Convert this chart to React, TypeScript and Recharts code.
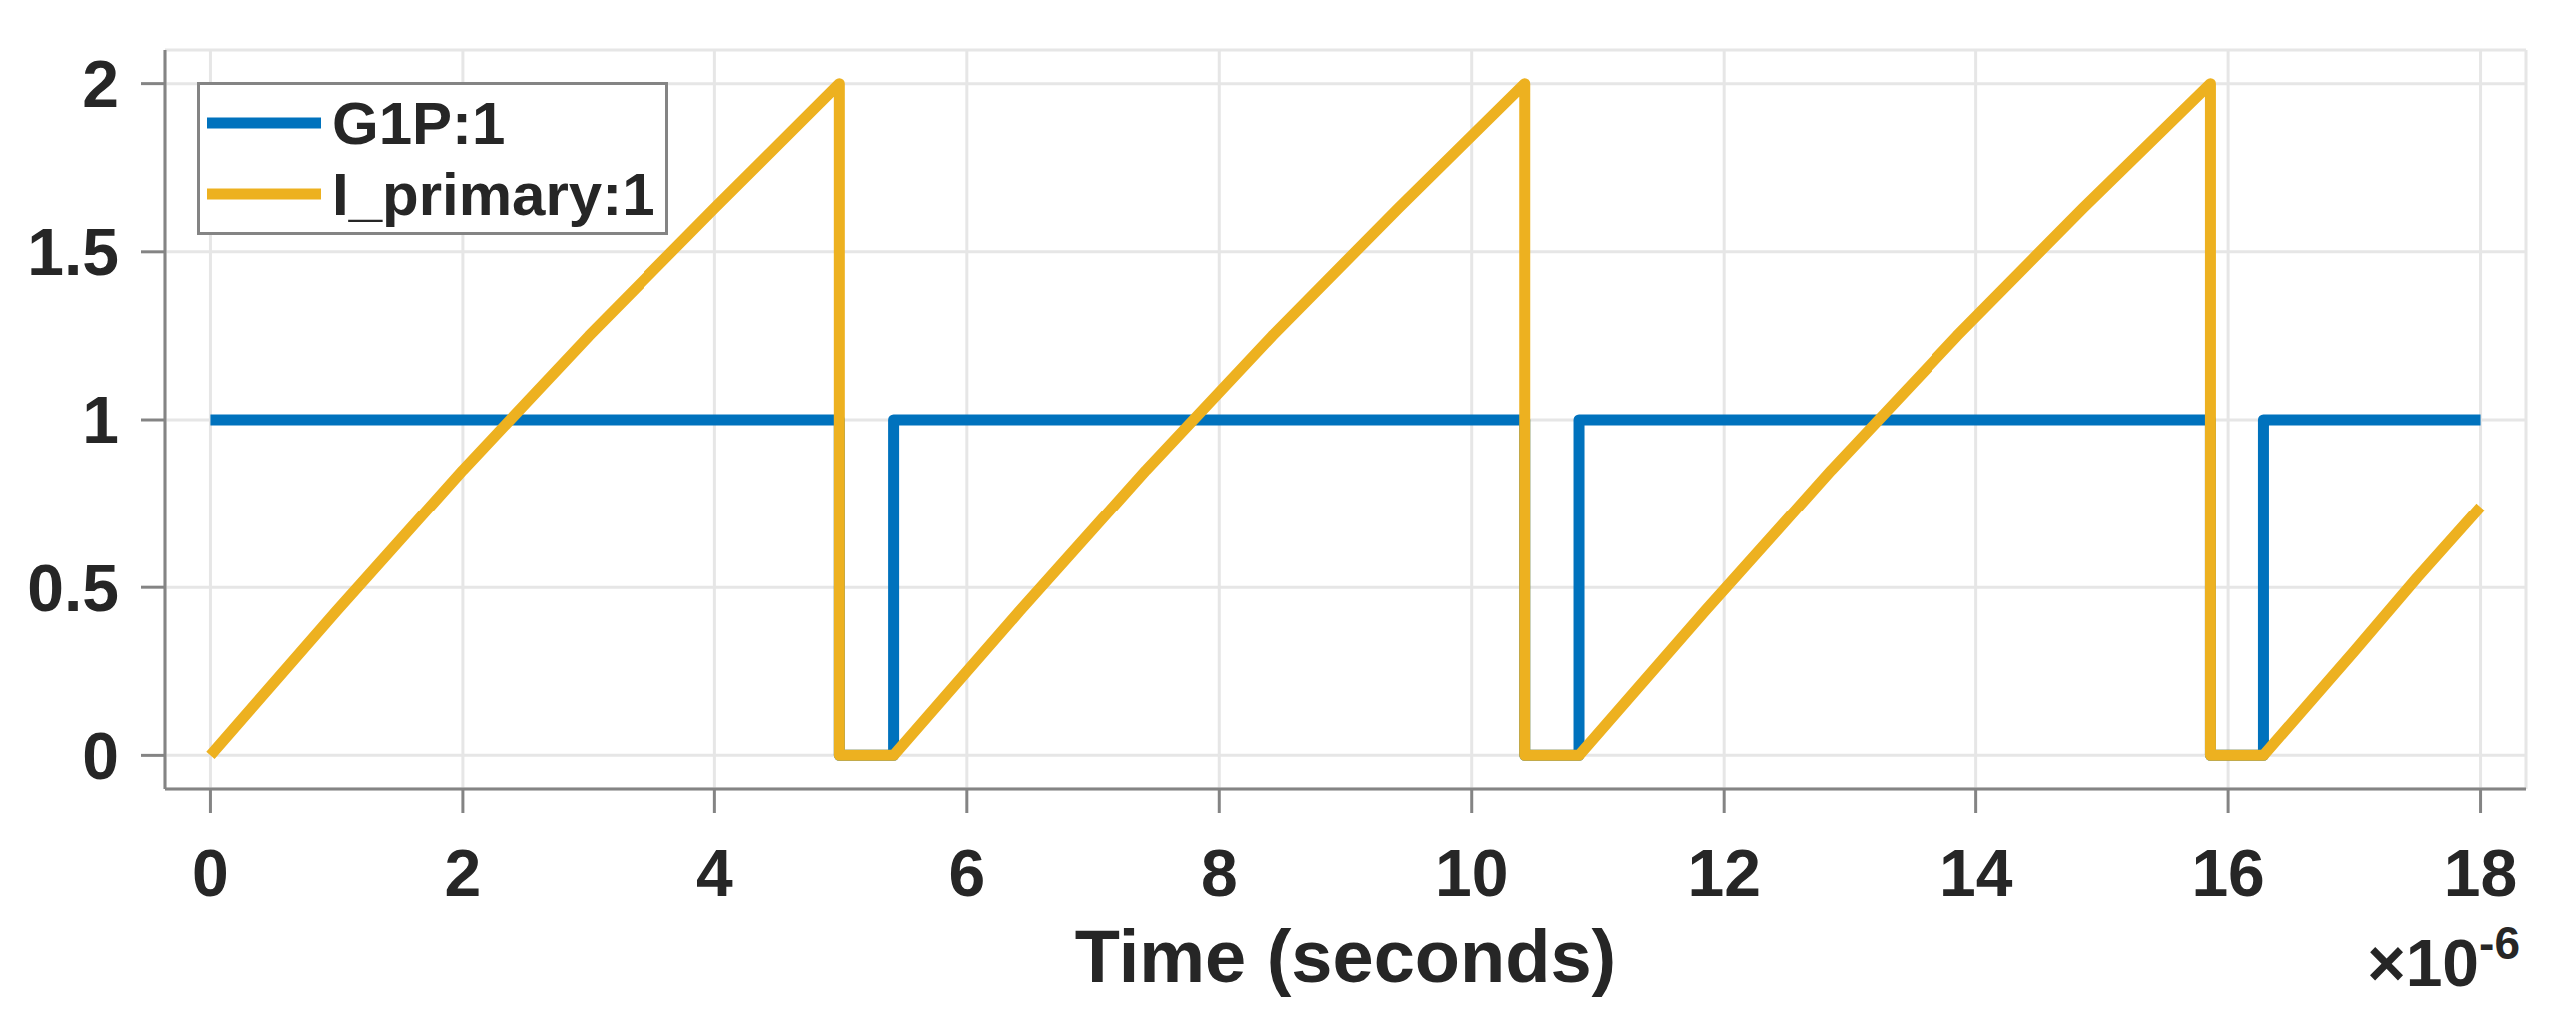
import { CartesianGrid, Legend, Line, LineChart, XAxis, YAxis } from 'recharts';

document.body.style.margin = '0';

const FONT = '"Liberation Sans", Arial, Helvetica, sans-serif';
const INK = '#262626';
const AXIS = '#848484';

const xTicks = [0, 2, 4, 6, 8, 10, 12, 14, 16, 18];
const yTicks = [0, 0.5, 1, 1.5, 2];

// time axis is in microseconds (x1e-6 s)
const g1pTime = [0, 4.99, 4.99, 5.42, 5.42, 10.42, 10.42, 10.85, 10.85, 15.86, 15.86, 16.28, 16.28, 18];
const g1pValue = [1, 1, 0, 0, 1, 1, 0, 0, 1, 1, 0, 0, 1, 1];

const iPrimaryTime = [
  0, 1, 2, 3, 4, 4.99, 4.99,
  5.42, 6.42, 7.42, 8.42, 9.42, 10.42, 10.42,
  10.85, 11.85, 12.85, 13.85, 14.85, 15.86, 15.86,
  16.28, 17.0, 17.5, 18,
];
const iPrimaryValue = [
  0, 0.43, 0.85, 1.25, 1.63, 2.0, 0,
  0, 0.43, 0.85, 1.25, 1.63, 2.0, 0,
  0, 0.43, 0.85, 1.25, 1.63, 2.0, 0,
  0, 0.31, 0.53, 0.74,
];

const zip = (ts: number[], vs: number[]) => ts.map((t, i) => ({ t, v: vs[i] }));
const g1pData = zip(g1pTime, g1pValue);
const iPrimaryData = zip(iPrimaryTime, iPrimaryValue);

function AxisLabels({ viewBox }: any) {
  const x = viewBox?.x ?? 165;
  const y = viewBox?.y ?? 790;
  const width = viewBox?.width ?? 2363;
  return (
    <g fontFamily={FONT} fontWeight={700} fill={INK}>
      <text x={x + width / 2} y={y + 193} fontSize={74} textAnchor="middle">
        Time (seconds)
      </text>
      <text x={x + width - 6} y={y + 197} fontSize={66} textAnchor="end">
        ×10<tspan dy={-27} fontSize={46}>-6</tspan>
      </text>
    </g>
  );
}

function LegendBox({ payload }: any) {
  const items = payload ?? [];
  return (
    <svg width={472} height={153} style={{ display: 'block' }}>
      <rect x={1.5} y={1.5} width={469} height={150} fill="#fff" stroke={AXIS} strokeWidth={3} />
      {items.map((it: any, i: number) => {
        const cy = 41 + i * 71;
        return (
          <g key={it.value}>
            <line x1={10} x2={124} y1={cy} y2={cy} stroke={it.color} strokeWidth={11} />
            <text x={135} y={cy + 21} fontSize={60} fontWeight={700} fill={INK} fontFamily={FONT}>
              {it.value}
            </text>
          </g>
        );
      })}
    </svg>
  );
}

const tickStyle = { fontSize: 66, fontWeight: 700, fill: INK, fontFamily: FONT };
const lineStyle = { stroke: AXIS, strokeWidth: 3 };

export default function App() {
  return (
    <LineChart width={2578} height={1023} margin={{ top: 50, right: 50, bottom: 0, left: 0 }}>
      <CartesianGrid stroke="#e6e6e6" strokeWidth={3} />
      <XAxis
        dataKey="t"
        type="number"
        domain={[-0.36, 18.36]}
        allowDataOverflow
        ticks={xTicks}
        interval={0}
        height={233}
        tickSize={24}
        tickMargin={36}
        axisLine={lineStyle}
        tickLine={lineStyle}
        tick={tickStyle}
        label={<AxisLabels />}
      />
      <XAxis
        xAxisId="top"
        orientation="top"
        type="number"
        domain={[-0.36, 18.36]}
        allowDataOverflow
        ticks={xTicks}
        interval={0}
        height={0}
        tickSize={24}
        axisLine={lineStyle}
        tickLine={lineStyle}
        tick={false}
      />
      <YAxis
        type="number"
        domain={[-0.1, 2.1]}
        allowDataOverflow
        ticks={yTicks}
        interval={0}
        width={165}
        tickSize={24}
        tickMargin={22}
        axisLine={lineStyle}
        tickLine={lineStyle}
        tick={tickStyle}
      />
      <YAxis
        yAxisId="right"
        orientation="right"
        type="number"
        domain={[-0.1, 2.1]}
        allowDataOverflow
        ticks={yTicks}
        interval={0}
        width={0}
        tickSize={24}
        axisLine={lineStyle}
        tickLine={lineStyle}
        tick={false}
      />
      <Legend
        content={<LegendBox />}
        layout="horizontal"
        verticalAlign="middle"
        align="center"
        wrapperStyle={{ top: 82, left: 197, width: 472, height: 153 }}
      />
      <Line
        data={g1pData}
        dataKey="v"
        name="G1P:1"
        type="linear"
        stroke="#0072BD"
        strokeWidth={11}
        strokeLinejoin="round"
        dot={false}
        activeDot={false}
        isAnimationActive={false}
      />
      <Line
        data={iPrimaryData}
        dataKey="v"
        name="I_primary:1"
        type="linear"
        stroke="#EDB120"
        strokeWidth={11}
        strokeLinejoin="round"
        dot={false}
        activeDot={false}
        isAnimationActive={false}
      />
    </LineChart>
  );
}
